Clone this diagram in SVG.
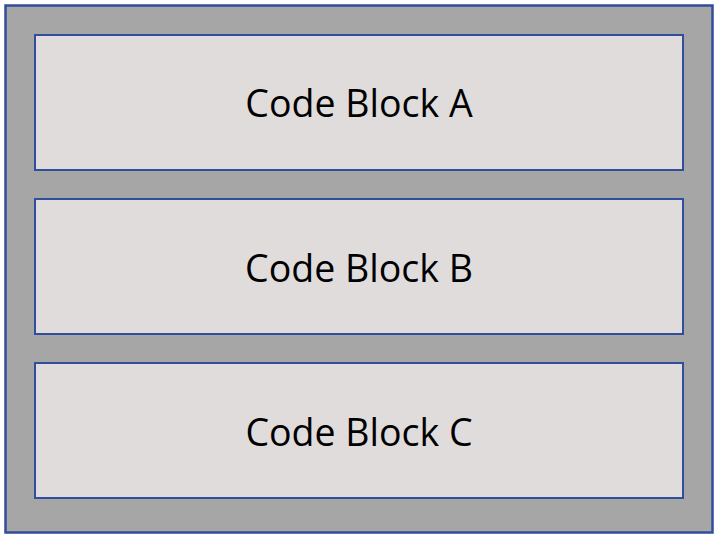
<svg xmlns="http://www.w3.org/2000/svg" width="718" height="539" viewBox="0 0 718 539">
<style>
.blk{fill:#e0dcdc;stroke:#2f4e9c;stroke-width:2}
.lbl{font-family:"Open Sans","Noto Sans",sans-serif;font-size:37.5px;fill:#000;text-anchor:middle}
</style>
<rect width="718" height="539" fill="#ffffff"/>
<g id="container"><rect x="5.5" y="5.5" width="707" height="527" fill="#a6a6a6" stroke="#2f4e9c" stroke-width="2.5"/></g>
<g id="blockA"><rect class="blk" x="35" y="35" width="648" height="135"/><text class="lbl" x="359" y="117">Code Block A</text></g>
<g id="blockB"><rect class="blk" x="35" y="199" width="648" height="135"/><text class="lbl" x="359" y="282">Code Block B</text></g>
<g id="blockC"><rect class="blk" x="35" y="363" width="648" height="135"/><text class="lbl" x="359" y="446">Code Block C</text></g>
<g id="connectors"></g>
</svg>
